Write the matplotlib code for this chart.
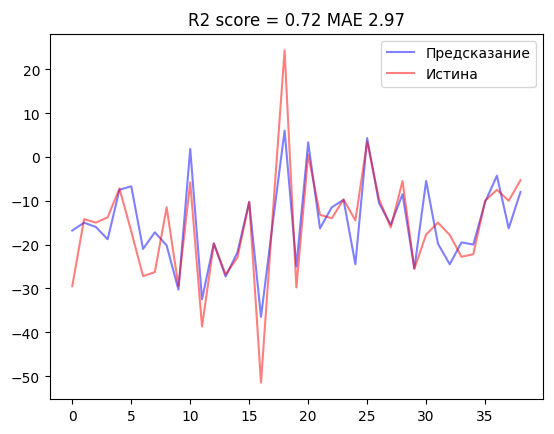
import numpy as np
import matplotlib
matplotlib.use("Agg")
import matplotlib.pyplot as plt

pred = [-16.8, -15, -16, -18.8, -7.5, -6.7, -21, -17.2, -20.2, -30.3,
        1.8, -32.5, -19.7, -27.3, -21.8, -10.3, -36.5, -15, 6, -25,
        3.3, -16.3, -11.5, -9.8, -24.5, 4.3, -10.5, -15.5, -8.5, -25.5,
        -5.5, -19.8, -24.5, -19.5, -20, -10.3, -4.3, -16.3, -8]
true = [-29.5, -14.2, -15, -13.8, -7.2, -17, -27.2, -26.3, -11.5, -29.5,
        -5.8, -38.7, -19.8, -26.8, -23, -10.3, -51.5, -13, 24.3, -29.8,
        0.5, -13.2, -14, -9.7, -14.5, 3.5, -9.6, -16.1, -5.5, -25.5,
        -17.7, -15, -17.8, -22.8, -22.2, -10, -7.5, -10, -5.3]

x = np.arange(len(pred))
fig = plt.figure(figsize=(5.54, 4.35), dpi=100)
plt.plot(x, pred, color="blue", alpha=0.5, label="Предсказание")
plt.plot(x, true, color="red", alpha=0.5, label="Истина")
plt.title("R2 score = 0.72 MAE 2.97")
plt.legend()
plt.subplots_adjust(left=0.09, right=0.98, top=0.92, bottom=0.08)
plt.savefig("out.png")
